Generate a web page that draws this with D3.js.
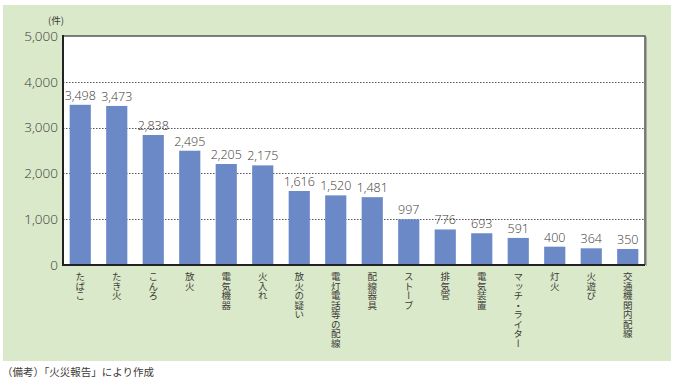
<!DOCTYPE html>
<html><head><meta charset="utf-8">
<script src="https://cdn.jsdelivr.net/npm/d3@7"></script>
<style>
html,body{margin:0;padding:0;background:#fff;}
svg{display:block;font-family:"Noto Sans CJK JP","Noto Sans",sans-serif;}
</style></head>
<body>
<svg id="c" width="673" height="380"></svg>
<script>
const categories = ["たばこ","たき火","こんろ","放火","電気機器","火入れ","放火の疑い","電灯電話等の配線","配線器具","ストーブ","排気管","電気装置","マッチ・ライター","灯火","火遊び","交通機関内配線"];
const values = [3498,3473,2838,2495,2205,2175,1616,1520,1481,997,776,693,591,400,364,350];
const yTicks = [0,1000,2000,3000,4000,5000];
const unitLabel = "(件)";
const note = "（備考）「火災報告」により作成";

const svg = d3.select("#c");
const L=63,R=645,T=36,B=265;
const textColor="#3e3a36";

svg.append("rect").attr("x",3).attr("y",5).attr("width",668).attr("height",356).attr("fill","#d9e9ca");

const x = d3.scaleBand().domain(categories).range([L-1,R+1]).paddingInner(0.42).paddingOuter(0.21);
const y = d3.scaleLinear().domain([0,5000]).range([B,T]);

svg.append("rect").attr("x",L).attr("y",T).attr("width",R-L).attr("height",B-T).attr("fill","#fff");

svg.append("g").selectAll("line").data(yTicks.filter(d=>d>0&&d<5000)).join("line")
  .attr("x1",L).attr("x2",R).attr("y1",d=>Math.round(y(d))+0.5).attr("y2",d=>Math.round(y(d))+0.5)
  .attr("stroke","#555").attr("stroke-width",1).attr("stroke-dasharray","1.5,1.5");

svg.append("g").selectAll("rect").data(values).join("rect")
  .attr("x",(d,i)=>x(categories[i])).attr("width",x.bandwidth())
  .attr("y",d=>y(d)).attr("height",d=>B-y(d)).attr("fill","#6a89c6");

svg.append("g").selectAll("text").data(values).join("text")
  .attr("x",(d,i)=>x(categories[i])+x.bandwidth()/2).attr("y",d=>y(d)-5)
  .attr("text-anchor","middle").attr("font-size",12.5).attr("fill",textColor)
  .attr("font-family","'Open Sans','Noto Sans',sans-serif").attr("font-weight",300)
  .text(d=>d3.format(",")(d));

svg.append("path").attr("d",`M${L},${T}H${R}V${B}`).attr("fill","none").attr("stroke","#555").attr("stroke-width",1.5);
svg.append("line").attr("x1",R+1.5).attr("x2",R+1.5).attr("y1",T+1).attr("y2",B+1).attr("stroke","#aaa").attr("stroke-width",1);

const yAxis = d3.axisLeft(y).tickValues(yTicks).tickSize(0).tickPadding(5).tickFormat(d3.format(","));
const gy = svg.append("g").attr("transform",`translate(${L},0)`).call(yAxis);
gy.select(".domain").remove();
gy.selectAll("text").attr("font-size",13.5).attr("fill",textColor)
  .attr("font-family","'Open Sans','Noto Sans',sans-serif").attr("font-weight",300);

svg.append("line").attr("x1",L).attr("x2",L).attr("y1",T-1).attr("y2",B+1).attr("stroke","#222").attr("stroke-width",2);
svg.append("line").attr("x1",L-1).attr("x2",R).attr("y1",B).attr("y2",B).attr("stroke","#222").attr("stroke-width",2);

svg.append("g").selectAll("text").data(categories).join("text")
  .attr("x",d=>x(d)+x.bandwidth()/2).attr("y",272)
  .style("writing-mode","vertical-rl").style("text-orientation","upright")
  .attr("font-size",9.5).attr("fill",textColor)
  .text(d=>d);

svg.append("text").attr("x",56).attr("y",24).attr("text-anchor","middle").attr("font-size",9.5).attr("fill",textColor).text(unitLabel);

svg.append("text").attr("x",2).attr("y",376).attr("font-size",10.5).attr("fill",textColor).text(note);
</script>
</body></html>
